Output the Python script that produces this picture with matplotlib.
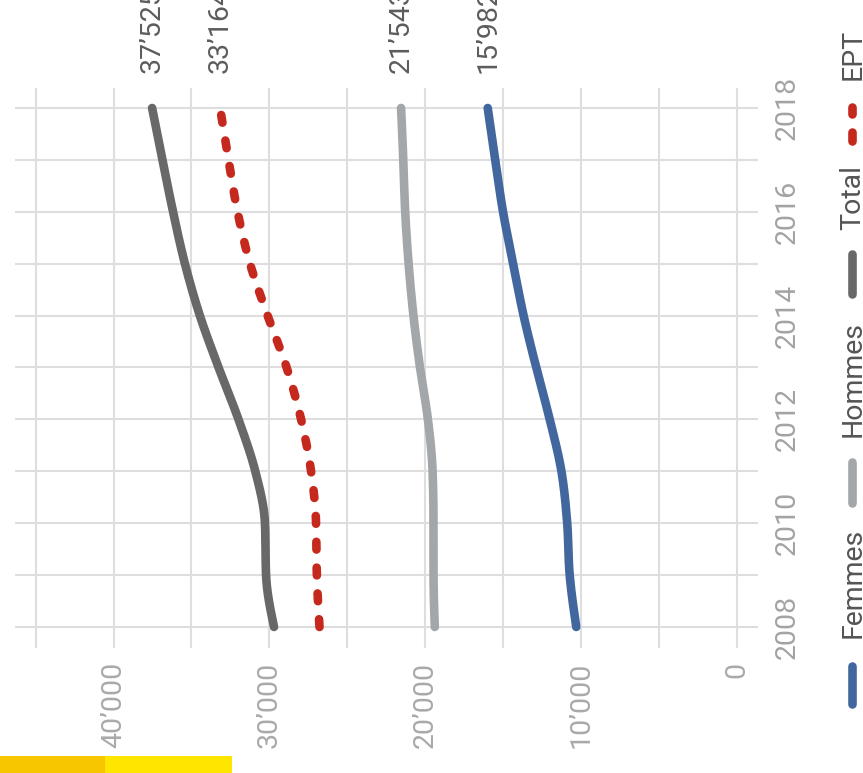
import numpy as np
import matplotlib
matplotlib.use("Agg")
import matplotlib.pyplot as plt
from matplotlib.lines import Line2D
from matplotlib.patches import Rectangle

plt.rcParams['font.family'] = ['Roboto', 'DejaVu Sans']

# ---- data -------------------------------------------------------------
years = [2008, 2009, 2010, 2011, 2012, 2013, 2014, 2015, 2016, 2017, 2018]
femmes = [10300, 10720, 10880, 11250, 12000, 12870, 13680, 14350, 15000, 15500, 15982]
hommes = [19380, 19460, 19460, 19520, 19820, 20330, 20750, 21060, 21280, 21400, 21543]
total = [29700, 30210, 30280, 30900, 31980, 33260, 34460, 35420, 36180, 36860, 37525]
ept = [26780, 26950, 27000, 27320, 27960, 28890, 30110, 31240, 32040, 32620, 33164]

series_names = ["Femmes", "Hommes", "Total", "EPT"]
value_ticks = [0, 5000, 10000, 15000, 20000, 25000, 30000, 35000, 40000, 45000]
year_ticks = years
year_labels = ["2008", "", "2010", "", "2012", "", "2014", "", "2016", "", "2018"]

COL = {"Femmes": "#41679e", "Hommes": "#a4a7aa", "Total": "#686868", "EPT": "#c5281c"}

W, H = 863, 773
FS = 20.5


def fmt(v):
    return f"{int(v):,}".replace(",", "\u2019")


def monotone_curve(x, y, n=40):
    """Monotone cubic (Steffen) interpolation, like d3.curveMonotoneX."""
    x = np.asarray(x, float)
    y = np.asarray(y, float)
    h = np.diff(x)
    s = np.diff(y) / h
    t = np.zeros_like(y)
    sgn = lambda v: -1.0 if v < 0 else 1.0
    for i in range(1, len(x) - 1):
        s0, s1, h0, h1 = s[i - 1], s[i], h[i - 1], h[i]
        p = (s0 * h1 + s1 * h0) / (h0 + h1)
        t[i] = (sgn(s0) + sgn(s1)) * min(abs(s0), abs(s1), 0.5 * abs(p))
    t[0] = (3 * s[0] - t[1]) / 2
    t[-1] = (3 * s[-1] - t[-2]) / 2
    xs, ys = [], []
    for i in range(len(x) - 1):
        u = np.linspace(0, 1, n, endpoint=(i == len(x) - 2))
        h00 = 2 * u**3 - 3 * u**2 + 1
        h10 = u**3 - 2 * u**2 + u
        h01 = -2 * u**3 + 3 * u**2
        h11 = u**3 - u**2
        xs.append(x[i] + u * h[i])
        ys.append(h00 * y[i] + h10 * h[i] * t[i] + h01 * y[i + 1] + h11 * h[i] * t[i + 1])
    return np.concatenate(xs), np.concatenate(ys)


def fig_pt(px, py):
    return px / W, 1 - py / H


fig = plt.figure(figsize=(W / 100, H / 100), dpi=100)
fig.patch.set_facecolor("white")

# value axis runs right-to-left, years run bottom-to-top
ax = fig.add_axes([15 / W, 1 - 648 / H, 743 / W, 560 / H])
ax.set_xlim(46325, -1367)
ax.set_ylim(2007.595, 2018.385)
for sp in ax.spines.values():
    sp.set_visible(False)

ax.set_xticks(value_ticks)
ax.set_xticklabels([fmt(v) if v % 10000 == 0 else "" for v in value_ticks],
                   rotation=90, color="#a9a9a9", fontsize=FS)
ax.yaxis.tick_right()
ax.set_yticks(year_ticks)
ax.set_yticklabels(year_labels, rotation=90, va="center", ha="left",
                   color="#a3a3a3", fontsize=FS)
ax.tick_params(axis="x", length=0, pad=10)
ax.tick_params(axis="y", length=0, pad=11)
ax.grid(True, color="#dedede", lw=1.5)
ax.set_axisbelow(True)

data = {"Femmes": femmes, "Hommes": hommes, "Total": total, "EPT": ept}
LW = 6.2
for name in series_names:
    yr, val = monotone_curve(years, data[name])
    if name == "EPT":
        ax.plot(val, yr, color=COL[name], lw=LW, linestyle=(0, (0.9, 2.1)),
                dash_capstyle="round", solid_capstyle="round", zorder=3)
    else:
        ax.plot(val, yr, color=COL[name], lw=LW, solid_capstyle="round", zorder=3)
    last = data[name][-1]
    ax.annotate(fmt(last), xy=(last, years[-1]), xytext=(0, 35),
                textcoords="offset pixels", rotation=90, ha="center", va="bottom",
                fontsize=FS, color="#5c5c5c", annotation_clip=False)

# legend along the right edge
legend_items = [
    ("Femmes", 708, 662, 638),
    ("Hommes", 507, 458, 437),
    ("Total", 298, 250, 230),
]
for name, y0, y1, ytxt in legend_items:
    a = fig_pt(852, y0 - 4)
    b = fig_pt(852, y1 + 4)
    fig.add_artist(Line2D([a[0], b[0]], [a[1], b[1]], transform=fig.transFigure,
                          color=COL[name], lw=LW, solid_capstyle="round"))
    tx, ty = fig_pt(853, ytxt)
    fig.text(tx, ty, name, rotation=90, ha="center", va="bottom",
             fontsize=FS, color="#555555")

for y0, y1 in [(141, 132), (114, 107)]:
    a = fig_pt(852, y0)
    b = fig_pt(852, y1)
    fig.add_artist(Line2D([a[0], b[0]], [a[1], b[1]], transform=fig.transFigure,
                          color=COL["EPT"], lw=LW, solid_capstyle="round"))
tx, ty = fig_pt(853, 80)
fig.text(tx, ty, "EPT", rotation=90, ha="center", va="bottom",
         fontsize=FS, color="#555555")

# yellow strip in the lower-left corner
fig.add_artist(Rectangle(fig_pt(0, H), 105 / W, 17 / H, transform=fig.transFigure,
                         facecolor="#f7c600", edgecolor="none"))
fig.add_artist(Rectangle(fig_pt(105, H), 127 / W, 17 / H, transform=fig.transFigure,
                         facecolor="#ffe600", edgecolor="none"))

fig.savefig("out.png", dpi=100, facecolor="white")
